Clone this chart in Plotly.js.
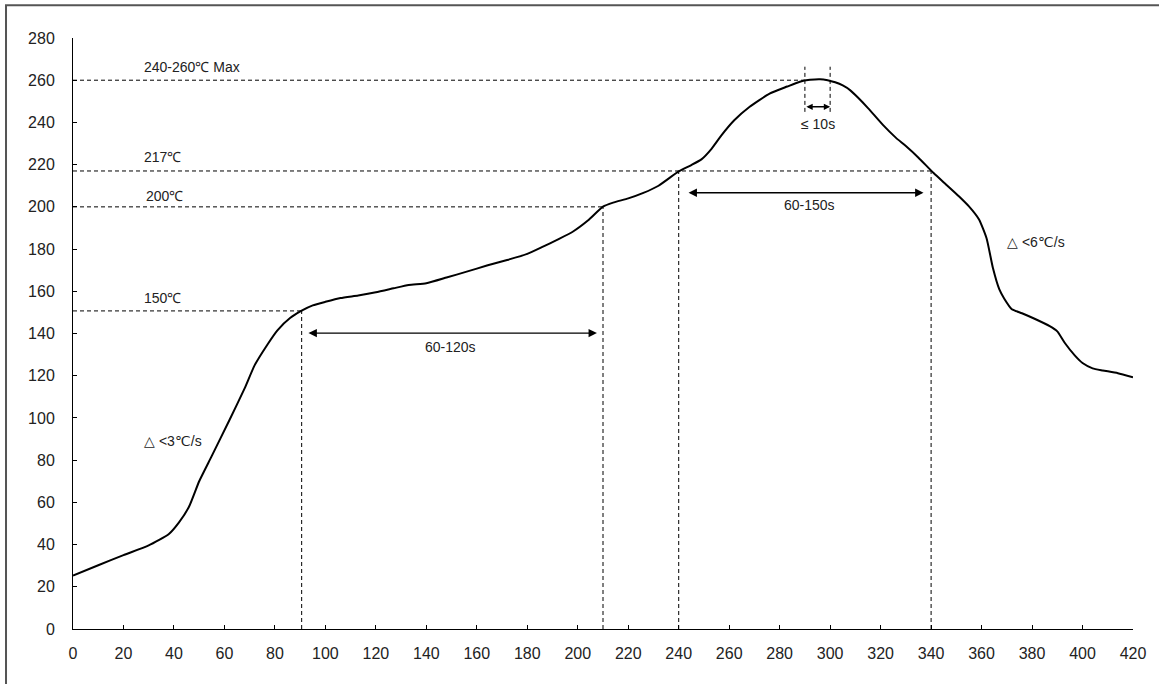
<!DOCTYPE html>
<html>
<head>
<meta charset="utf-8">
<script src="https://cdn.plot.ly/plotly-3.0.1.min.js"></script>
<style>
  html, body { margin: 0; padding: 0; background: #fff; }
  #chart { width: 1159px; height: 684px; }
</style>
</head>
<body>
<div id="chart"></div>
<script>
// ---- Data (time in s, temperature in ℃) ----
const timeS = [0, 10, 20, 30, 38, 42, 46, 50, 55, 62, 68, 72, 77, 81, 86, 90.6, 95, 100, 106, 113,
  120, 127, 133, 140, 148, 156, 164, 172, 180, 186, 192, 198, 204, 210, 214, 220, 226, 232, 240,
  245, 249, 253, 257, 262, 268, 276, 283, 288, 292, 296, 299, 302, 305, 308, 311, 315, 321, 326,
  330, 335, 341, 346, 351, 355, 359, 362, 364.5, 367, 369, 372, 376, 381, 387, 390, 393, 397, 400,
  404, 408, 414, 420];
const tempC = [25.3, 30.2, 35, 39.6, 45, 50.5, 58, 70, 82, 99, 114, 125, 134.7, 141.5, 147.3, 150.8,
  153.3, 155, 156.8, 158, 159.5, 161.4, 163, 163.8, 166.5, 169.3, 172.2, 174.8, 177.7, 181, 184.5,
  188.2, 193.5, 200.1, 202, 204, 206.6, 210, 216.8, 219.8, 222.5, 227.5, 234, 241, 247.3, 253.6,
  257, 259.3, 260.2, 260.5, 260, 259, 257.5, 255.2, 251.8, 246.8, 238.7, 232.8, 228.8, 223.3,
  216, 210.5, 205, 200.2, 194, 185, 171, 161, 156.5, 151.5, 149.6, 147, 143.5, 141, 135.5, 129.5,
  126, 123.5, 122.5, 121.2, 119.3];

// Reference levels (℃) and the time where each horizontal guide ends
const levelTemps = [150.7, 200, 217, 260];
const levelEndTimes = [90.6, 210, 340, 290];
const levelLabels = ["150℃", "200℃", "217℃", "240-260℃ Max"];

// Vertical guides: time (s) and the temperature they rise to
const guideTimes = [90.6, 210, 240, 340];
const guideTops = [150.7, 200, 217, 217];

// Interval arrows: start, end, level, label
const spanStarts = [92.7, 243.3, 290];
const spanEnds = [207.6, 337, 300];
const spanLevels = [140.2, 206.7, 247.4];
const spanLabels = ["60-120s", "60-150s", "≤ 10s"];

// Peak-window guides
const peakWindow = [290, 300];
const peakWindowRange = [245, 266.4];

// Slope notes
const slopeLabels = ["△ <3℃/s", "△ <6℃/s"];

// Axis ticks
const xTicks = [0, 20, 40, 60, 80, 100, 120, 140, 160, 180, 200, 220, 240, 260, 280, 300, 320, 340, 360, 380, 400, 420];
const yTicks = [0, 20, 40, 60, 80, 100, 120, 140, 160, 180, 200, 220, 240, 260, 280];

// ---- Build ----
const FONT = "Liberation Sans, Arial, sans-serif";
const dash = {color: "#000", width: 1, dash: "4px,3px"};
const shapes = [];
const annotations = [];

levelTemps.forEach((t, i) => {
  shapes.push({type: "line", xref: "x", yref: "y", x0: 0, x1: levelEndTimes[i], y0: t, y1: t, line: dash});
});
guideTimes.forEach((t, i) => {
  shapes.push({type: "line", xref: "x", yref: "y", x0: t, x1: t, y0: 0, y1: guideTops[i], line: dash});
});
peakWindow.forEach(t => {
  shapes.push({type: "line", xref: "x", yref: "y", x0: t, x1: t, y0: peakWindowRange[0], y1: peakWindowRange[1], line: dash});
});
// outer frame
shapes.push({type: "rect", xref: "paper", yref: "paper", x0: -0.0632, x1: 1.05, y0: -0.15, y1: 1.0555,
  line: {color: "#555", width: 2}, fillcolor: "rgba(0,0,0,0)"});

const txtFont = {family: FONT, size: 14, color: "#222"};
const levelLabelY = [156.8, 205.1, 223.6, 266.3];
const levelLabelX = [27.5, 28.3, 27.5, 27.5];
levelLabels.forEach((s, i) => {
  annotations.push({x: levelLabelX[i], y: levelLabelY[i], xref: "x", yref: "y", text: s, showarrow: false,
    xanchor: "left", yanchor: "middle", font: txtFont});
});

spanStarts.forEach((s, i) => {
  annotations.push({x: spanEnds[i], y: spanLevels[i], ax: s, ay: spanLevels[i], xref: "x", yref: "y",
    axref: "x", ayref: "y", text: "", showarrow: true, arrowhead: 2, startarrowhead: 2,
    arrowside: "end+start", arrowsize: i === 2 ? 0.9 : 1.2, startarrowsize: i === 2 ? 0.9 : 1.2,
    arrowwidth: 1.4, arrowcolor: "#000", standoff: 0, startstandoff: 0});
});
const spanLabelX = [149.4, 292, 295.2];
const spanLabelY = [133.6, 200.9, 239.3];
spanLabels.forEach((s, i) => {
  annotations.push({x: spanLabelX[i], y: spanLabelY[i], xref: "x", yref: "y", text: s, showarrow: false,
    xanchor: "center", yanchor: "middle", font: txtFont});
});

const slopeX = [27.5, 369.3];
const slopeY = [89.1, 183.4];
slopeLabels.forEach((s, i) => {
  annotations.push({x: slopeX[i], y: slopeY[i], xref: "x", yref: "y", text: s, showarrow: false,
    xanchor: "left", yanchor: "middle", font: txtFont});
});

const trace = {
  x: timeS, y: tempC, type: "scatter", mode: "lines",
  line: {color: "#000", width: 2, shape: "spline", smoothing: 0.5},
  hoverinfo: "x+y"
};

const axisCommon = {
  showgrid: false, zeroline: false, showline: true, linecolor: "#000", linewidth: 1,
  ticks: "inside", ticklen: 4, tickcolor: "#000", tickwidth: 1,
  tickfont: {family: FONT, size: 16, color: "#222"}, fixedrange: true
};

const layout = {
  width: 1159, height: 684,
  margin: {l: 73, r: 26, t: 38, b: 55, pad: 0},
  paper_bgcolor: "#fff", plot_bgcolor: "#fff",
  showlegend: false,
  xaxis: Object.assign({}, axisCommon, {range: [0, 420], tickmode: "array", tickvals: xTicks,
    ticktext: xTicks.map(String), ticklabelstandoff: 10}),
  yaxis: Object.assign({}, axisCommon, {range: [0, 280], tickmode: "array", tickvals: yTicks,
    ticktext: yTicks.map(String), ticklabelstandoff: 14}),
  shapes: shapes,
  annotations: annotations
};

Plotly.newPlot("chart", [trace], layout, {displayModeBar: false, staticPlot: true});
</script>
</body>
</html>
